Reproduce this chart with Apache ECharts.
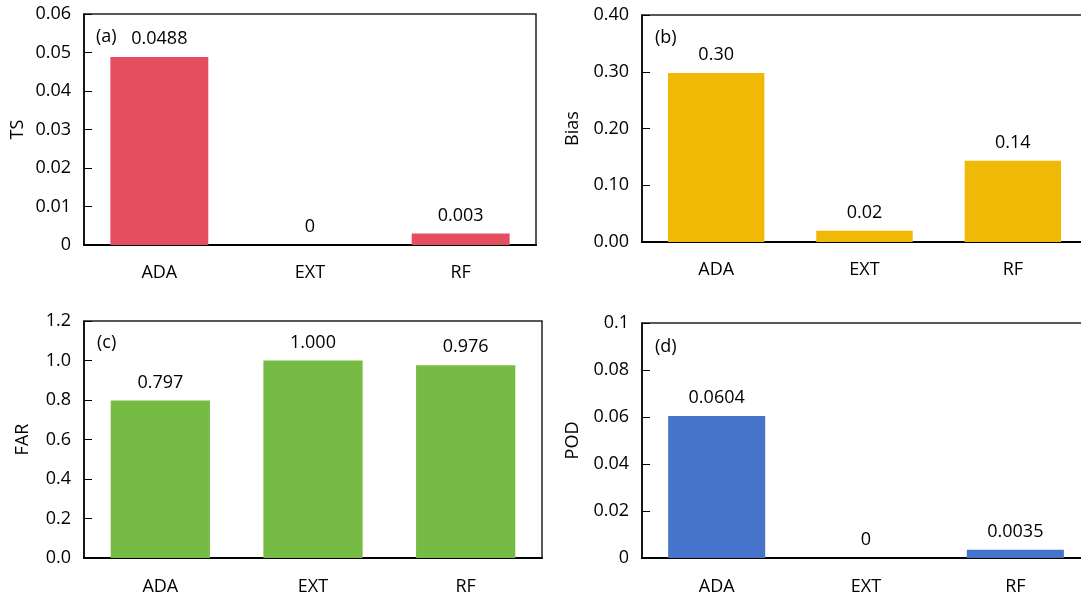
<!DOCTYPE html>
<html>
<head>
<meta charset="utf-8">
<script src="https://cdn.jsdelivr.net/npm/echarts@6/dist/echarts.min.js"></script>
<style>
html,body{margin:0;padding:0;background:#fff;overflow:hidden;}
#chart{width:1110px;height:599px;}
</style>
</head>
<body>
<div id="chart"></div>
<script>
var categories = ['ADA', 'EXT', 'RF'];
var tsValues = [0.0488, 0, 0.003];
var biasValues = [0.298, 0.02, 0.143];
var farValues = [0.797, 1.000, 0.976];
var podValues = [0.0604, 0, 0.0035];
var tsLabels = ['0.0488', '0', '0.003'];
var biasLabels = ['0.30', '0.02', '0.14'];
var farLabels = ['0.797', '1.000', '0.976'];
var podLabels = ['0.0604', '0', '0.0035'];
var panelNames = ['TS', 'Bias', 'FAR', 'POD'];
var panelTags = ['(a)', '(b)', '(c)', '(d)'];
var yMax = [0.06, 0.4, 1.2, 0.1];
var yStep = [0.01, 0.1, 0.2, 0.02];
var yDecimals = [null, 2, 1, null];

var FONT = '"Open Sans", "Noto Sans", sans-serif';
var colors = ['#E54E5F', '#F0B905', '#76BB43', '#4674CA'];
var values = [tsValues, biasValues, farValues, podValues];
var labels = [tsLabels, biasLabels, farLabels, podLabels];

var grids = [
  {left: 84, top: 14, width: 452, height: 231},
  {left: 642, top: 15, width: 445, height: 227},
  {left: 84, top: 321, width: 458, height: 237},
  {left: 642, top: 323, width: 448, height: 235}
];
var nameGaps = [57, 60, 52, 60];
var labelMargins = [19, 19, 20, 20];
var tagPos = [[96, 37], [655, 38], [97, 343], [655, 347]];

var option = {
  animation: false,
  backgroundColor: '#fff',
  grid: grids.map(function (g) {
    return Object.assign({show: true, borderColor: '#222', borderWidth: 1.5, backgroundColor: 'transparent'}, g);
  }),
  xAxis: grids.map(function (g, i) {
    return {
      type: 'category', gridIndex: i, data: categories,
      axisLine: {lineStyle: {color: '#000', width: 2}},
      axisTick: {show: false},
      axisLabel: {color: '#000', fontSize: 18, fontFamily: FONT, margin: labelMargins[i]}
    };
  }),
  yAxis: grids.map(function (g, i) {
    return {
      type: 'value', gridIndex: i, min: 0, max: yMax[i], interval: yStep[i],
      name: panelNames[i], nameLocation: 'middle', nameGap: nameGaps[i], nameRotate: 90,
      nameTextStyle: {color: '#000', fontSize: 18, fontFamily: FONT},
      splitLine: {show: false},
      axisLine: {show: true, lineStyle: {color: '#000', width: 1.5}},
      axisTick: {show: true, inside: true, length: 8, lineStyle: {color: '#000', width: 1}},
      axisLabel: {
        color: '#000', fontSize: 18, fontFamily: FONT, margin: 13,
        formatter: function (v) {
          var d = yDecimals[i];
          if (d === null) { return String(+v.toFixed(4)); }
          return v.toFixed(d);
        }
      }
    };
  }),
  series: grids.map(function (g, i) {
    return {
      type: 'bar', xAxisIndex: i, yAxisIndex: i,
      data: values[i], barCategoryGap: '35%',
      itemStyle: {color: colors[i]},
      label: {
        show: true, position: 'top', distance: 9, color: '#000',
        fontSize: 18, fontFamily: FONT,
        formatter: function (p) { return labels[i][p.dataIndex]; }
      }
    };
  }),
  graphic: panelTags.map(function (t, i) {
    return {
      type: 'text', x: tagPos[i][0], y: tagPos[i][1],
      style: {text: t, fill: '#000', font: '18px ' + FONT, verticalAlign: 'middle', align: 'left'}
    };
  })
};

var chart = echarts.init(document.getElementById('chart'), null, {renderer: 'canvas'});
chart.setOption(option);
</script>
</body>
</html>
